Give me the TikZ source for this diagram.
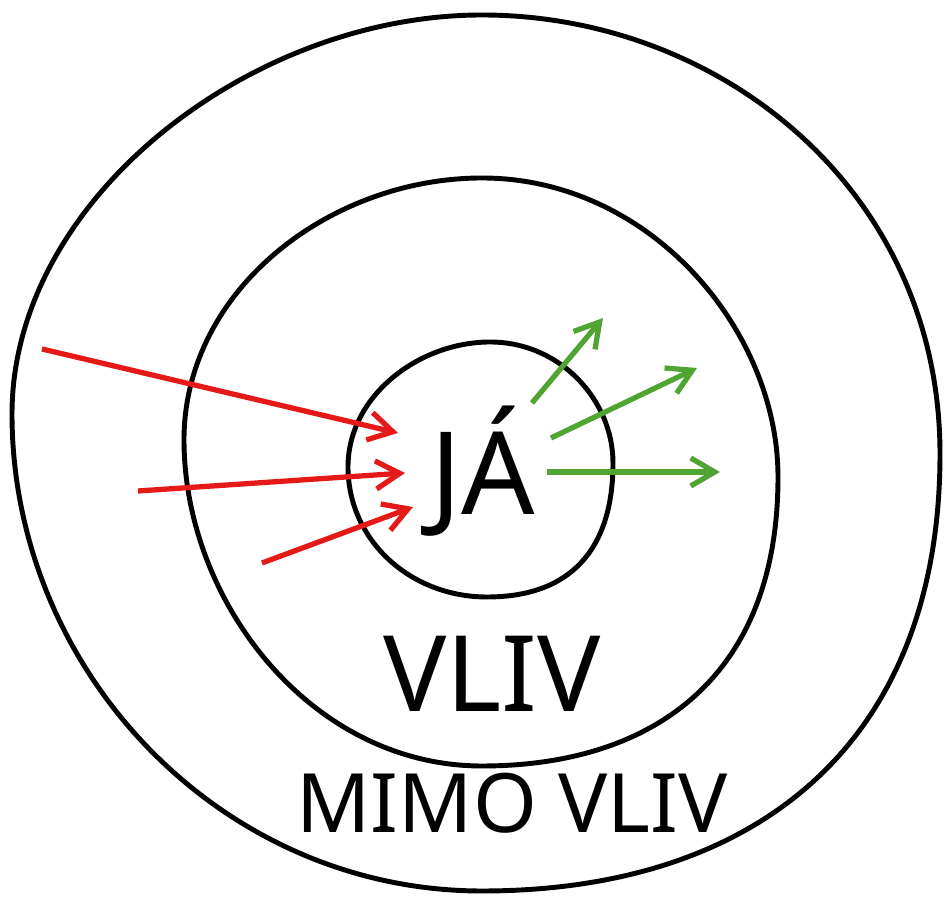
\documentclass[tikz,border=0pt]{standalone}
\usepackage{fontspec}
\setmainfont{Noto Sans}
\usetikzlibrary{arrows.meta}
\definecolor{inred}{RGB}{230,25,25}
\definecolor{outgreen}{RGB}{80,165,50}
\tikzset{
  ring/.style={line width=1.4pt, black},
  inflow/.style={line width=1.5pt, inred, -{Straight Barb[length=2.4mm,width=2.8mm]}},
  outflow/.style={line width=1.5pt, outgreen, -{Straight Barb[length=2.4mm,width=2.8mm]}},
  label/.style={anchor=base, inner sep=0pt}
}
\begin{document}
\begin{tikzpicture}[x=0.01cm,y=-0.01cm]
\useasboundingbox (0,0) rectangle (945,901);
% outer ring
\draw[ring] (482,15) .. controls (720,15) and (940,190) .. (940,454)
  .. controls (940,740) and (760,891) .. (482,891)
  .. controls (220,891) and (12,670) .. (12,414)
  .. controls (12,200) and (250,15) .. cycle;
% middle ring
\draw[ring] (482,178) .. controls (650,178) and (778,330) .. (778,477)
  .. controls (778,680) and (650,766) .. (482,766)
  .. controls (310,766) and (184,600) .. (184,440)
  .. controls (184,290) and (330,178) .. cycle;
% inner ring
\draw[ring] (490,342) .. controls (560,342) and (613,400) .. (613,463)
  .. controls (613,550) and (570,597) .. (487,597)
  .. controls (410,597) and (348,540) .. (348,467)
  .. controls (348,395) and (420,342) .. cycle;
% texts
\node[label, font=\fontsize{32.7}{36}\selectfont] (ja) at (483,515) {JÁ};
\node[label, font=\fontsize{30}{34}\selectfont] (vliv) at (492,712) {VLIV};
\node[label, font=\fontsize{23.3}{27}\selectfont] (mimo) at (512,833) {MIMO VLIV};
% arrow ends
\foreach \n/\x/\y in {r1/42/349, r1t/398/433, r2/138/491, r2t/405/473, r3/262/563, r3t/413/507,
  g1/532/403, g1t/603/318, g2/551/438, g2t/697/368, g3/547/472, g3t/720/472}
  {\coordinate (\n) at (\x,\y);}
\foreach \n in {r1,r2,r3}
  {\draw[inflow] (\n) -- (\n t);}
\foreach \n in {g1,g2,g3}
  {\draw[outflow] (\n) -- (\n t);}
\end{tikzpicture}
\end{document}
